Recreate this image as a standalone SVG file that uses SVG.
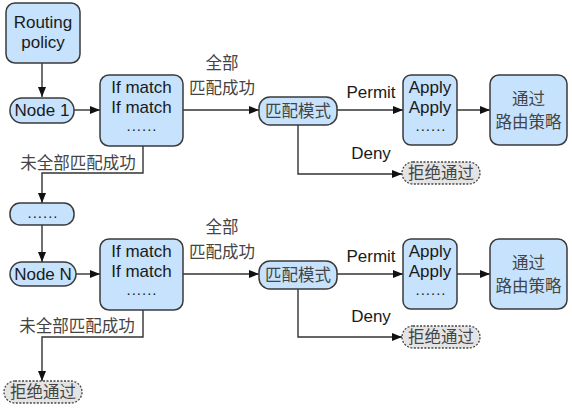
<svg xmlns="http://www.w3.org/2000/svg" width="572" height="409" viewBox="0 0 572 409">
<style>
.box{fill:#c6e2fc;stroke:#3a3a3a;stroke-width:1.5}
.rej{fill:#e4e4e4;stroke:#444;stroke-width:1.3;stroke-dasharray:2,1.5}
.en{font-family:"Liberation Sans",Arial,sans-serif;font-size:17px;fill:#1a1a1a;text-anchor:middle}
.dt{font-family:"Liberation Sans",Arial,sans-serif;font-size:15px;fill:#1a1a1a;text-anchor:middle;letter-spacing:1px}
.cn{font-family:"Noto Sans CJK SC",sans-serif;font-size:16.5px;fill:#444;text-anchor:middle}
.ln{fill:none;stroke:#333;stroke-width:1.4}
</style>
<defs>
<marker id="ah" viewBox="0 0 10 8" refX="10" refY="4" markerWidth="11" markerHeight="8" markerUnits="userSpaceOnUse" orient="auto">
<path d="M0,0 L10,4 L0,8 z" fill="#111"/>
</marker>
</defs>
<rect width="572" height="409" fill="#fff"/>
<g id="connectors">
<path class="ln" d="M42,63 V97" marker-end="url(#ah)"/>
<path class="ln" d="M74,110 H100" marker-end="url(#ah)"/>
<path class="ln" d="M183,110 H259" marker-end="url(#ah)"/>
<path class="ln" d="M337,110 H403" marker-end="url(#ah)"/>
<path class="ln" d="M298,125 V174 H402" marker-end="url(#ah)"/>
<path class="ln" d="M457,110 H490" marker-end="url(#ah)"/>
<path class="ln" d="M143,146 V173 H42 V203" marker-end="url(#ah)"/>
<path class="ln" d="M42,225 V262" marker-end="url(#ah)"/>
<path class="ln" d="M76,274 H100" marker-end="url(#ah)"/>
<path class="ln" d="M183,274 H259" marker-end="url(#ah)"/>
<path class="ln" d="M337,274 H403" marker-end="url(#ah)"/>
<path class="ln" d="M298,289 V337 H402" marker-end="url(#ah)"/>
<path class="ln" d="M457,274 H490" marker-end="url(#ah)"/>
<path class="ln" d="M143,310 V337 H42 V381" marker-end="url(#ah)"/>
<text class="cn" x="222" y="69">全部</text>
<text class="cn" x="222" y="94">匹配成功</text>
<text class="en" x="371" y="98">Permit</text>
<text class="en" x="371" y="159">Deny</text>
<text class="cn" x="78" y="169">未全部匹配成功</text>
<text class="cn" x="222" y="233">全部</text>
<text class="cn" x="222" y="258">匹配成功</text>
<text class="en" x="371" y="262">Permit</text>
<text class="en" x="371" y="322">Deny</text>
<text class="cn" x="77" y="332">未全部匹配成功</text>
</g>
<g id="routing-policy">
<rect class="box" x="6" y="3" width="74" height="60" rx="9"/>
<text class="en" x="43" y="28">Routing</text>
<text class="en" x="43" y="48">policy</text>
</g>
<g id="node1">
<rect class="box" x="10" y="98" width="64" height="25" rx="12"/>
<text class="en" x="42" y="116">Node 1</text>
</g>
<g id="ifmatch1">
<rect class="box" x="100" y="75" width="83" height="71" rx="9"/>
<text class="en" x="141.5" y="93">If match</text>
<text class="en" x="141.5" y="113">If match</text>
<text class="dt" x="142" y="131">......</text>
</g>
<g id="mode1">
<rect class="box" x="259" y="97" width="78" height="28" rx="11"/>
<text class="cn" x="298" y="117">匹配模式</text>
</g>
<g id="apply1">
<rect class="box" x="403" y="75" width="54" height="70" rx="8"/>
<text class="en" x="430" y="93">Apply</text>
<text class="en" x="430" y="113">Apply</text>
<text class="dt" x="431" y="131">......</text>
</g>
<g id="pass1">
<rect class="box" x="490" y="75" width="77" height="70" rx="9"/>
<text class="cn" x="528.5" y="105">通过</text>
<text class="cn" x="528.5" y="128">路由策略</text>
</g>
<g id="reject1">
<rect class="rej" x="402" y="162" width="78" height="22" rx="11"/>
<text class="cn" x="441" y="179">拒绝通过</text>
</g>
<g id="dots">
<rect class="box" x="10" y="203" width="64" height="22" rx="10"/>
<text class="dt" x="43" y="218">......</text>
</g>
<g id="nodeN">
<rect class="box" x="10" y="262" width="66" height="24" rx="12"/>
<text class="en" x="43" y="280">Node N</text>
</g>
<g id="ifmatch2">
<rect class="box" x="100" y="239" width="83" height="71" rx="9"/>
<text class="en" x="141.5" y="257">If match</text>
<text class="en" x="141.5" y="277">If match</text>
<text class="dt" x="142" y="295">......</text>
</g>
<g id="mode2">
<rect class="box" x="259" y="261" width="78" height="28" rx="11"/>
<text class="cn" x="298" y="281">匹配模式</text>
</g>
<g id="apply2">
<rect class="box" x="403" y="239" width="54" height="70" rx="8"/>
<text class="en" x="430" y="257">Apply</text>
<text class="en" x="430" y="277">Apply</text>
<text class="dt" x="431" y="295">......</text>
</g>
<g id="pass2">
<rect class="box" x="490" y="239" width="77" height="70" rx="9"/>
<text class="cn" x="528.5" y="269">通过</text>
<text class="cn" x="528.5" y="292">路由策略</text>
</g>
<g id="reject2">
<rect class="rej" x="402" y="326" width="78" height="22" rx="11"/>
<text class="cn" x="441" y="343">拒绝通过</text>
</g>
<g id="reject3">
<rect class="rej" x="4" y="381" width="78" height="22" rx="11"/>
<text class="cn" x="43" y="398">拒绝通过</text>
</g>
</svg>
